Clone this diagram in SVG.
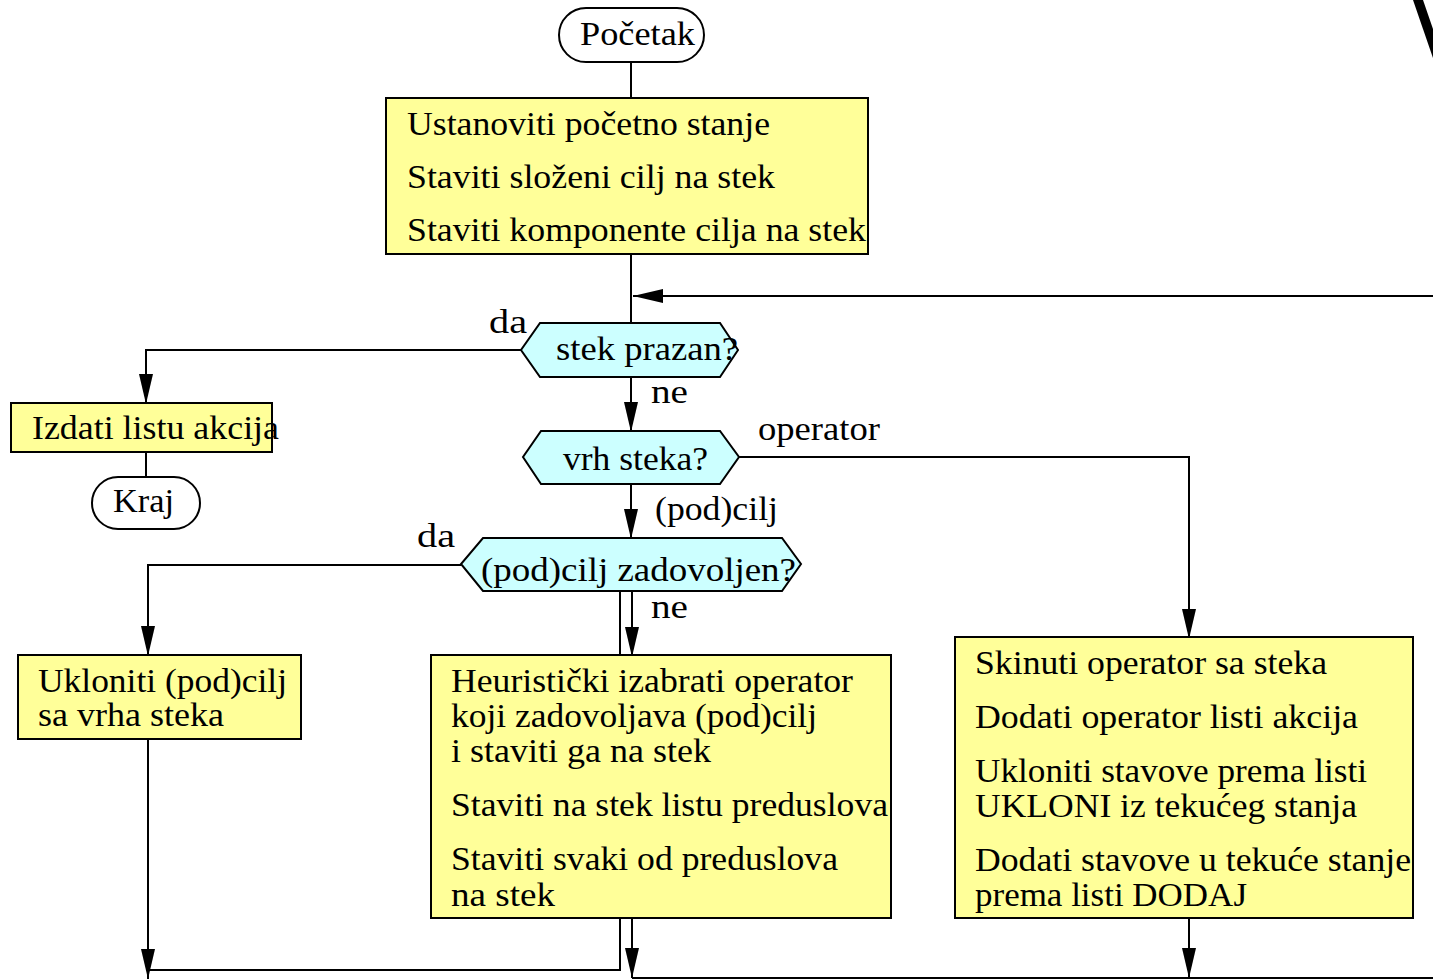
<svg xmlns="http://www.w3.org/2000/svg" width="1433" height="980" viewBox="0 0 1433 980" font-family="Liberation Serif, Times New Roman, serif" font-size="34">
<style>
.box{fill:#FFFF99;stroke:#000;stroke-width:2}
.hex{fill:#CCFFFF;stroke:#000;stroke-width:2}
.term{fill:#FFFFFF;stroke:#000;stroke-width:2}
.ln{fill:none;stroke:#000;stroke-width:2}
.arr{fill:none;stroke:#000;stroke-width:2;marker-end:url(#ah)}
</style>
<defs>
<marker id="ah" markerUnits="userSpaceOnUse" markerWidth="32" markerHeight="16" refX="30" refY="7" orient="auto" viewBox="0 0 32 16">
<path d="M0,0 L30,7 L0,14 Z" fill="#000"/>
</marker>
</defs>
<rect width="1433" height="980" fill="#FFFFFF"/>
<g id="connectors">
<line class="ln" x1="631" y1="62" x2="631" y2="98"/>
<line class="ln" x1="631" y1="254" x2="631" y2="323"/>
<line class="arr" x1="1433" y1="296" x2="633" y2="296"/>
<polyline class="arr" points="521,350 146,350 146,404"/>
<line class="ln" x1="146" y1="452" x2="146" y2="477"/>
<line class="arr" x1="631" y1="377" x2="631" y2="432"/>
<polyline class="arr" points="739,457 1189,457 1189,639"/>
<line class="arr" x1="631" y1="484" x2="631" y2="539"/>
<polyline class="arr" points="461,565 148,565 148,656"/>
<line class="arr" x1="632" y1="591" x2="632" y2="657"/>
<polyline class="ln" points="620,591 620,970 148,970"/>
<line class="arr" x1="148" y1="739" x2="148" y2="979"/>
<line class="arr" x1="632" y1="918" x2="632" y2="978"/>
<line class="arr" x1="1189" y1="918" x2="1189" y2="978"/>
<line class="ln" x1="632" y1="978" x2="1433" y2="978"/>
<polygon points="1413,0 1423,0 1433,29 1433,58" fill="#000"/>
</g>
<g id="pocetak">
<rect class="term" x="559" y="8" width="145" height="54" rx="27"/>
<text x="580" y="45" textLength="115" lengthAdjust="spacingAndGlyphs">Početak</text>
</g>
<g id="init">
<rect class="box" x="386" y="98" width="482" height="156"/>
<text x="407" y="135" textLength="363" lengthAdjust="spacingAndGlyphs">Ustanoviti početno stanje</text>
<text x="407" y="188" textLength="368" lengthAdjust="spacingAndGlyphs">Staviti složeni cilj na stek</text>
<text x="407" y="241" textLength="459" lengthAdjust="spacingAndGlyphs">Staviti komponente cilja na stek</text>
</g>
<g id="stekprazan">
<polygon class="hex" points="540,323 720,323 738,350 720,377 540,377 521,350"/>
<text x="556" y="360" textLength="182" lengthAdjust="spacingAndGlyphs">stek prazan?</text>
</g>
<g id="izdati">
<rect class="box" x="11" y="403" width="261" height="49"/>
<text x="32" y="439" textLength="247" lengthAdjust="spacingAndGlyphs">Izdati listu akcija</text>
</g>
<g id="kraj">
<rect class="term" x="92" y="477" width="108" height="52" rx="26"/>
<text x="113" y="512" textLength="61" lengthAdjust="spacingAndGlyphs">Kraj</text>
</g>
<g id="vrhsteka">
<polygon class="hex" points="541,431 720,431 739,457 720,484 541,484 523,457"/>
<text x="563" y="470" textLength="145" lengthAdjust="spacingAndGlyphs">vrh steka?</text>
</g>
<g id="podcilj">
<polygon class="hex" points="483,538 782,538 801,564 782,591 483,591 461,564"/>
<text x="481" y="581" textLength="315" lengthAdjust="spacingAndGlyphs">(pod)cilj zadovoljen?</text>
</g>
<g id="ukloniti">
<rect class="box" x="18" y="655" width="283" height="84"/>
<text x="38" y="692" textLength="249" lengthAdjust="spacingAndGlyphs">Ukloniti (pod)cilj</text>
<text x="38" y="726" textLength="186" lengthAdjust="spacingAndGlyphs">sa vrha steka</text>
</g>
<g id="heuristicki">
<rect class="box" x="431" y="655" width="460" height="263"/>
<text x="451" y="692" textLength="402" lengthAdjust="spacingAndGlyphs">Heuristički izabrati operator</text>
<text x="451" y="727" textLength="366" lengthAdjust="spacingAndGlyphs">koji zadovoljava (pod)cilj</text>
<text x="451" y="762" textLength="260" lengthAdjust="spacingAndGlyphs">i staviti ga na stek</text>
<text x="451" y="816" textLength="437" lengthAdjust="spacingAndGlyphs">Staviti na stek listu preduslova</text>
<text x="451" y="870" textLength="387" lengthAdjust="spacingAndGlyphs">Staviti svaki od preduslova</text>
<text x="451" y="906" textLength="104" lengthAdjust="spacingAndGlyphs">na stek</text>
</g>
<g id="skinuti">
<rect class="box" x="955" y="637" width="458" height="281"/>
<text x="975" y="674" textLength="352" lengthAdjust="spacingAndGlyphs">Skinuti operator sa steka</text>
<text x="975" y="728" textLength="383" lengthAdjust="spacingAndGlyphs">Dodati operator listi akcija</text>
<text x="975" y="782" textLength="392" lengthAdjust="spacingAndGlyphs">Ukloniti stavove prema listi</text>
<text x="975" y="817" textLength="382" lengthAdjust="spacingAndGlyphs">UKLONI iz tekućeg stanja</text>
<text x="975" y="871" textLength="436" lengthAdjust="spacingAndGlyphs">Dodati stavove u tekuće stanje</text>
<text x="975" y="906" textLength="272" lengthAdjust="spacingAndGlyphs">prema listi DODAJ</text>
</g>
<g id="labels">
<text x="489" y="333" textLength="38" lengthAdjust="spacingAndGlyphs">da</text>
<text x="651" y="403" textLength="37" lengthAdjust="spacingAndGlyphs">ne</text>
<text x="758" y="440" textLength="122" lengthAdjust="spacingAndGlyphs">operator</text>
<text x="655" y="520" textLength="123" lengthAdjust="spacingAndGlyphs">(pod)cilj</text>
<text x="417" y="547" textLength="38" lengthAdjust="spacingAndGlyphs">da</text>
<text x="651" y="618" textLength="37" lengthAdjust="spacingAndGlyphs">ne</text>
</g>
</svg>
